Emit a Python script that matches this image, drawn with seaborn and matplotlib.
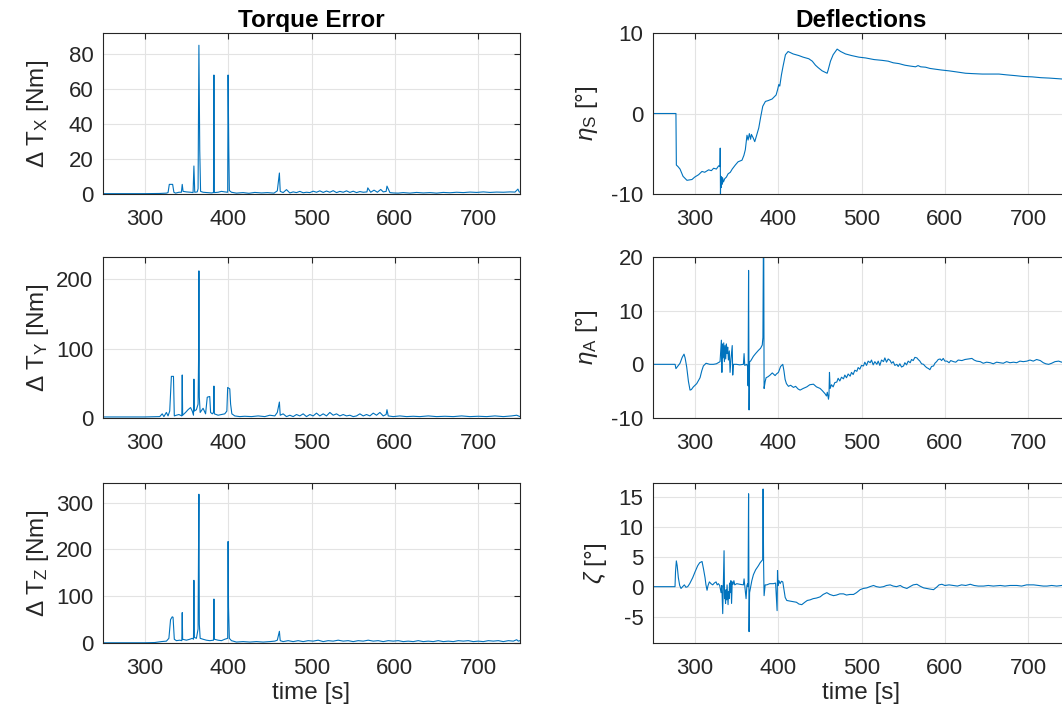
import matplotlib
matplotlib.use("Agg")
import matplotlib.pyplot as plt
import seaborn as sns
import pandas as pd

# (time [s], value) samples
TX_POINTS = [(250, 0.2), (300, 0.2), (318, 0.3), (326, 0.5), (328, 0.8), (329.5, 5.5), (333.5, 5.5), (335, 1.0),
             (337, 0.5), (341, 1.0), (344, 1.0), (345, 5.5), (346, 1.5), (350, 1.2), (355, 1.0), (358, 0.8),
             (359, 16), (360, 1.0), (363, 1.2), (364, 3), (365, 85), (366, 25), (367, 1.5), (370, 1.0),
             (375, 0.8), (380, 0.6), (382.5, 0.8), (383, 68), (383.5, 0.8), (388, 1.0), (392, 1.5), (396, 1.2),
             (399.5, 1.0), (400, 68), (400.8, 26), (401.5, 2), (404, 1.0), (410, 0.5), (418, 0.8), (425, 0.4),
             (432, 0.9), (440, 0.6), (447, 0.8), (455, 0.5), (459, 1.8), (461.5, 12), (462.5, 1.5), (466, 0.8),
             (470, 2.5), (474, 0.6), (478, 1.2), (482, 0.8), (486, 1.5), (490, 0.7), (494, 1.0), (498, 0.8),
             (502, 1.6), (506, 1.0), (510, 1.8), (514, 0.9), (518, 1.7), (522, 1.0), (526, 1.9), (530, 0.8),
             (534, 1.5), (538, 1.0), (542, 1.8), (546, 0.9), (550, 1.6), (554, 0.8), (558, 1.4), (562, 1.0),
             (566.5, 1.2), (567.5, 3.5), (571, 1.0), (575, 2.2), (579, 1.0), (583, 2.6), (586, 1.2), (589.5, 1.5),
             (590.5, 4.5), (594, 0.8), (598, 0.6), (604, 0.5), (610, 0.8), (618, 0.5), (626, 0.9), (634, 0.6),
             (642, 0.8), (650, 0.5), (658, 0.9), (666, 0.7), (674, 1.0), (682, 0.8), (690, 1.1), (698, 0.9),
             (706, 1.2), (714, 0.9), (722, 1.1), (730, 1.0), (738, 1.2), (744, 1.1), (747.5, 2.8), (749, 1.2),
             (750, 1.0)]

TY_POINTS = [(250, 1.5), (300, 1.5), (318, 2), (321, 6), (323, 2), (326, 8), (328, 3), (330, 10), (332, 60),
             (334.5, 60), (335.5, 3), (338, 4), (341, 5), (344.5, 3), (345, 62), (345.5, 4), (349, 8), (352, 12),
             (355, 15), (357, 10), (358.5, 4), (359, 56), (359.5, 10), (362, 12), (364, 20), (364.6, 85),
             (365, 212), (365.5, 30), (366.5, 8), (370, 14), (373, 6), (375, 30), (378, 31), (379, 8), (381, 6),
             (382.5, 8), (383, 46), (383.5, 6), (388, 4), (392, 5), (396, 6), (398.5, 10), (399.5, 44), (402, 42),
             (403, 20), (404.5, 6), (408, 3), (414, 2), (420, 2.5), (428, 2), (436, 3), (444, 2), (450, 4),
             (456, 3), (459, 8), (461.5, 23), (462.5, 4), (466, 6), (470, 2), (474, 4), (478, 2), (482, 5),
             (486, 3), (490, 6), (494, 2), (498, 5), (502, 3), (506, 7), (510, 3), (514, 6), (518, 3), (522, 8),
             (526, 4), (530, 6), (534, 3), (538, 5), (542, 3), (546, 4), (550, 2), (554, 3), (558, 6), (562, 3),
             (566, 5), (570, 3), (574, 7), (578, 4), (582, 8), (586, 3), (589.5, 5), (590.5, 12), (592, 3),
             (598, 2), (606, 3), (614, 2), (622, 2.5), (630, 2), (640, 3), (650, 2), (660, 2.5), (670, 2),
             (680, 3), (690, 2), (700, 2.5), (710, 2), (720, 3), (730, 2), (740, 3), (746, 4), (750, 2)]

TZ_POINTS = [(250, 0.5), (300, 0.5), (312, 1), (320, 3), (326, 4), (329, 10), (331, 50), (333, 56), (334, 55),
             (335.5, 8), (338, 5), (342, 6), (344.5, 5), (345, 65), (345.5, 8), (350, 6), (354, 8), (357, 10),
             (358.5, 8), (359, 134), (359.5, 12), (362, 10), (364, 30), (364.6, 215), (365, 318), (365.5, 40),
             (366.5, 10), (370, 8), (374, 6), (378, 5), (382.5, 6), (383, 94), (383.5, 8), (388, 6), (392, 5),
             (396, 8), (399.5, 10), (400, 217), (400.5, 76), (401.5, 10), (404, 5), (410, 2), (418, 3), (426, 2),
             (434, 3), (442, 2), (450, 3), (456, 4), (459, 6), (461.5, 25), (462.5, 5), (466, 3), (472, 5),
             (478, 3), (484, 5), (490, 3), (496, 5), (502, 4), (508, 6), (514, 3), (520, 5), (526, 4), (532, 6),
             (538, 4), (544, 5), (550, 3), (556, 5), (562, 4), (568, 6), (574, 4), (580, 5), (586, 3), (592, 5),
             (598, 4), (604, 5), (610, 3), (616, 4), (622, 3), (628, 5), (634, 3), (640, 4), (646, 3), (652, 5),
             (658, 3), (664, 4), (670, 3), (676, 5), (682, 4), (688, 5), (694, 3), (700, 4), (706, 3), (712, 5),
             (718, 4), (724, 5), (730, 3), (736, 5), (742, 4), (746, 7), (748, 4), (750, 5)]

ETA_S_POINTS = [(250, 0), (277.5, 0), (278, -6.4), (280, -6.6), (282.4, -6.9), (286, -7.8), (290.7, -8.3),
                (296.7, -8.2), (300, -7.9), (304.7, -7.6), (308.7, -7.2), (312, -7.3), (316.7, -7.0),
                (320, -7.1), (322.7, -6.8), (326, -6.9), (328.7, -6.5), (330.3, -6.6), (330.6, -4.3),
                (330.9, -10), (331.3, -7.8), (331.8, -9.2), (332.3, -7.9), (332.8, -8.8), (333.5, -8.0),
                (334.5, -8.5), (336, -8.1), (338, -7.9), (340, -7.5), (342.7, -7.3), (345, -6.9), (348.7, -6.4),
                (352, -6.0), (356.7, -5.8), (359, -5.2), (360.7, -4.5), (362.7, -2.7), (364, -3.3),
                (365.5, -2.5), (367, -3.2), (368, -2.6), (370, -3.0), (372, -3.5), (374, -2.8), (376.8, -1.8),
                (379, -0.5), (381.6, 0.9), (384.8, 1.5), (388, 1.6), (392.8, 1.8), (397.6, 2.3), (399.5, 3.0),
                (400.8, 3.6), (402, 3.4), (404, 4.8), (406, 5.9), (408.8, 7.3), (412, 7.7), (418, 7.4),
                (424.8, 7.2), (430, 7.0), (436.8, 6.8), (441, 6.5), (444.8, 6.0), (448, 5.7), (452.8, 5.3),
                (458.8, 5.0), (460, 5.4), (462.8, 6.5), (466, 7.3), (470.8, 8.0), (475, 7.7), (480.8, 7.4),
                (488, 7.2), (496.8, 7.0), (505, 6.9), (515, 6.7), (524.8, 6.6), (532, 6.5), (538, 6.3),
                (544.8, 6.2), (552, 6.0), (558, 5.9), (564.8, 5.8), (567.8, 5.95), (571, 5.8), (576.8, 5.75),
                (582, 5.6), (588.8, 5.5), (596, 5.4), (604.8, 5.3), (615, 5.15), (624.8, 5.0), (634, 4.95),
                (644.8, 4.9), (654, 4.9), (664.8, 4.9), (674, 4.8), (684.8, 4.7), (694, 4.6), (704.8, 4.55),
                (715, 4.45), (725, 4.4), (738.8, 4.3), (750, 4.2)]

ETA_A_POINTS = [(250, 0), (276.5, 0), (277.5, -0.8), (280, -0.3), (282.4, 0.2), (285, 1.3), (287.2, 1.9),
                (288.5, 1.2), (290.4, -0.5), (292.5, -3.2), (294.4, -4.8), (296, -4.7), (298.4, -4.2),
                (302.4, -3.6), (306.4, -2.5), (308.5, -1.2), (310.4, -0.3), (313.6, 0.2), (318, 0), (322.4, 0),
                (326, 0.1), (330.4, 0.5), (332, 4.5), (332.6, -1.5), (333.2, 3.8), (334, 1.2), (334.8, 4.0),
                (335.6, 0.5), (336.4, 3.5), (337.2, 1.0), (338, 3.8), (338.8, 2.0), (339.6, 3.2), (340.4, 0.8),
                (341.5, 2.5), (342.4, -1.5), (343.5, 1.0), (345, 3.5), (345.6, -2), (346.4, 0), (350, 0),
                (354, -0.1), (358.4, 0), (359.2, 2), (360, -0.2), (362.4, 0), (363.6, -0.5), (364, -4),
                (364.6, 17.5), (365.2, -8.5), (365.8, 0.5), (367, 0.6), (370.4, 1.5), (373, 2.0), (376.4, 2.6),
                (379, 3.0), (381, 3.6), (381.8, 5), (382.3, 20.5), (382.8, 20.5), (383.2, -4.5), (384.5, -3.2),
                (385.6, -2.5), (388, -2.3), (390.4, -2), (393, -1.6), (396.4, -2.1), (398, -1.8), (400.4, -1.5),
                (403, -0.4), (405.6, 0), (407, -1.2), (408.4, -2.8), (410, -3.6), (412.4, -4.1), (415, -3.9),
                (418.4, -4.3), (421, -4.1), (424, -4.6), (426.4, -4.8), (430, -4.5), (434.4, -4.2), (438, -3.8),
                (442.4, -3.7), (446, -4.2), (450.4, -4.5), (453, -4.9), (456.4, -5.5), (458, -5.9), (459, -5.2),
                (460.4, -6.5), (461, -5.8), (461.6, -1.5), (462.4, -4.5), (464, -3.8), (466, -4.2), (468, -3.4),
                (470.4, -3.3), (472, -2.6), (474, -3.1), (476, -2.4), (478.4, -2.7), (480, -2.0), (482, -2.5),
                (484, -1.8), (486.4, -2.2), (488, -1.5), (490, -1.9), (492, -1.1), (494.4, -1.3), (496, -0.6),
                (498, -0.9), (500, -0.2), (502.4, -0.3), (504, 0.4), (506, -0.2), (508, 0.6), (510.4, 0.3),
                (512, 0.8), (514, -0.1), (516, 0.5), (518.4, 0), (520, 0.6), (522, -0.2), (524, 0.8),
                (526.4, 0.5), (528, 1.2), (530, 0.4), (532, 1.0), (534.4, 0.7), (536, 0.2), (538, 0.5),
                (540, -0.2), (542.4, 0), (544, -0.4), (546, 0.1), (548, -0.5), (550.4, -0.3), (552, 0.3),
                (554, -0.1), (556, 0.6), (558.4, 0.3), (560, 0.9), (562, 0.7), (564, 1.3), (566.4, 1.2),
                (568, 0.9), (570, 0.6), (572, 0.1), (574.4, 0), (576, -0.3), (578, -0.6), (580.4, -0.8),
                (582, -1.0), (584, -0.4), (586.4, -0.3), (588, 0.2), (590, 0.5), (592, 0.9), (594.4, 1.0),
                (596, 0.7), (598, 1.1), (600, 0.6), (602.4, 0.6), (605, 0.3), (607, 0.7), (610.4, 0.5),
                (613, 0.4), (616, 0.8), (620.4, 0.7), (624, 0.9), (628, 1.0), (632.4, 1.1), (635, 0.8),
                (638, 0.6), (642.4, 0.5), (646, 0.2), (650, 0.4), (654.4, 0.3), (658, 0.1), (662, 0.4),
                (666.4, 0.3), (670, 0.2), (674, 0.5), (678, 0.3), (682.4, 0.4), (686, 0.3), (690, 0.6),
                (694, 0.5), (698.4, 0.6), (702, 0.8), (706, 0.6), (710, 0.9), (714.4, 0.7), (718, 0.3),
                (721, 0.1), (724.4, 0), (728, 0.2), (732, 0.5), (736.4, 0.6), (740, 0.4), (744, 0.6), (747, 0.2),
                (750, 0.3)]

ZETA_POINTS = [(250, 0), (276.4, 0), (277, 2.5), (278, 4.3), (279, 3.5), (280.4, 1.5), (282, 0.2), (283.6, -0.3),
               (285.5, 0), (287.6, 0.3), (289.5, -0.1), (291.6, 0), (294, 0.5), (297.6, 1.5), (300.5, 2.5),
               (303.6, 3.5), (306, 4.0), (308.8, 4.2), (310.5, 3.0), (312.4, 1.5), (313.5, 0.3), (314.8, -0.6),
               (316, 0.2), (317.6, 0.8), (319.5, 0.5), (321.6, 0.3), (323.5, 0.6), (325.6, 0.8), (327, 0.3),
               (328.4, 0.5), (330, 0.2), (331.6, -1), (332.5, 0.2), (333.6, -4.5), (334.4, 0.5), (335.2, 6),
               (335.8, -2), (336.4, -1.2), (337, -2.8), (337.6, -0.5), (338.2, -2.2), (338.8, 0.3), (339.4, -1.5),
               (340, -3), (340.6, -0.8), (341.2, -2), (341.8, 0.6), (342.6, -1.0), (343.4, 1.0), (344.2, -2.8),
               (345, 0.8), (346, 0.4), (347, 1.0), (348, 0.3), (350.4, 0.5), (354, 0.4), (358.4, 0.3),
               (359.2, 1.3), (360, 0.2), (361.6, -2), (362.6, 0.2), (363.4, 0.5), (364, 0.0), (364.6, 15.5),
               (365.2, -7.5), (365.8, -1), (367.2, 0), (368.5, 1.0), (370.4, 2), (373, 2.8), (376.4, 3.5),
               (378.5, 4.0), (380.4, 4.3), (381.5, 4.5), (382, 16.3), (382.6, 4.0), (383.2, -1.5), (384.5, 0.3),
               (386.4, 0.3), (390, 0.5), (394.4, 0.5), (397, 0.6), (398.8, -4), (399.3, 2.7), (400, 0.2),
               (401, 1.0), (402.4, 0.5), (404, 0.9), (405.6, 0.8), (407, -0.5), (408.5, -1.8), (410.4, -2.3),
               (414, -2.4), (418.4, -2.5), (422, -2.6), (425, -2.9), (428.4, -3.0), (432, -2.6), (435, -2.3),
               (438.4, -2.2), (442, -2.0), (446, -1.9), (450.4, -1.7), (454, -1.3), (458.4, -1.0), (462, -1.3),
               (466.4, -1.5), (470, -1.4), (474, -1.2), (478.4, -1.2), (482, -1.4), (486, -1.3), (490.4, -1.3),
               (494, -1.0), (498.4, -0.5), (502, -0.3), (506.4, -0.2), (510, 0.0), (514.4, 0.2), (518, 0.0),
               (522, -0.1), (526.4, 0.0), (530, 0.2), (534.4, 0.3), (538, 0.1), (542, 0.0), (546.4, 0.2),
               (550, -0.1), (554.4, -0.3), (558, 0.0), (562, 0.3), (566.4, 0.4), (570, 0.1), (574.4, -0.2),
               (578, -0.3), (582, -0.4), (586.4, -0.5), (590, -0.1), (593, 0.3), (596.4, 0.4), (600, 0.2),
               (605, 0.3), (610.4, 0.2), (615, 0.1), (620, 0.3), (625, 0.2), (630.4, 0.4), (635, 0.2),
               (640, 0.1), (646.4, 0.1), (652, 0.2), (658, 0.1), (666.4, 0.2), (672, 0.1), (678, 0.2),
               (686.4, 0.2), (692, 0.1), (698, 0.3), (706.4, 0.3), (712, 0.2), (718, 0.1), (722.4, 0.1),
               (728, 0.2), (734, 0.1), (740.4, 0.2), (746, 0.3), (750, 0.2)]

X_TICKS = [300, 400, 500, 600, 700]
LINE_COLOR = "#0072BD"
DARK = "#262626"

sns.set_theme(style="whitegrid")
plt.rcParams["font.family"] = ["Liberation Sans", "DejaVu Sans"]
plt.rcParams["mathtext.fontset"] = "custom"
plt.rcParams["mathtext.rm"] = "Liberation Sans"
plt.rcParams["mathtext.it"] = "Liberation Sans:italic"
plt.rcParams["mathtext.bf"] = "Liberation Sans:bold"

fig = plt.figure(figsize=(10.62, 7.21), dpi=100)

W, H = 1062, 721
col_left = [103, 653]
col_w = 417
rows = [(33, 194), (257, 418), (483, 643)]

panels = [
    # col, row, data, ylim, yticks, ylabel, label x (axes coords)
    (0, 0, TX_POINTS, (0, 92), [0, 20, 40, 60, 80], r"$\Delta$ T$_{\mathrm{X}}$ [Nm]", -0.125),
    (0, 1, TY_POINTS, (0, 232), [0, 100, 200], r"$\Delta$ T$_{\mathrm{Y}}$ [Nm]", -0.125),
    (0, 2, TZ_POINTS, (0, 342), [0, 100, 200, 300], r"$\Delta$ T$_{\mathrm{Z}}$ [Nm]", -0.125),
    (1, 0, ETA_S_POINTS, (-10, 10), [-10, 0, 10], r"$\eta_{\mathrm{S}}$ [°]", -0.127),
    (1, 1, ETA_A_POINTS, (-10, 20), [-10, 0, 10, 20], r"$\eta_{\mathrm{A}}$ [°]", -0.127),
    (1, 2, ZETA_POINTS, (-9.4, 17.3), [-5, 0, 5, 10, 15], r"$\zeta$ [°]", -0.105),
]

for col, row, pts, ylim, yticks, ylabel, lx in panels:
    top, bottom = rows[row]
    ax = fig.add_axes([col_left[col] / W, 1 - bottom / H, col_w / W, (bottom - top) / H])
    df = pd.DataFrame(pts, columns=["time", "value"])
    sns.lineplot(data=df, x="time", y="value", ax=ax, color=LINE_COLOR,
                 linewidth=0.8, estimator=None, sort=False)
    ax.set_xlim(250, 750)
    ax.set_ylim(*ylim)
    ax.set_xticks(X_TICKS)
    ax.set_yticks(yticks)
    ax.set_yticklabels([str(v) for v in yticks])
    ax.grid(True, color="#e3e3e3", linewidth=0.8)
    for s in ax.spines.values():
        s.set_color(DARK)
        s.set_linewidth(0.8)
    ax.tick_params(axis="both", direction="in", length=4, width=0.8, color=DARK,
                   labelcolor=DARK, labelsize=16, top=True, right=True)
    ax.tick_params(axis="x", pad=11)
    ax.tick_params(axis="y", pad=7)
    ax.set_ylabel(ylabel, fontsize=17.5, color=DARK)
    ax.yaxis.set_label_coords(lx, 0.5)
    if row == 2:
        ax.set_xlabel("time [s]", fontsize=17.5, color=DARK, labelpad=2)
    else:
        ax.set_xlabel("")
    if row == 0:
        ax.set_title("Torque Error" if col == 0 else "Deflections",
                     fontsize=17.5, fontweight="bold", color="black", pad=4)

fig.savefig("out.png", dpi=100)
plt.close(fig)
